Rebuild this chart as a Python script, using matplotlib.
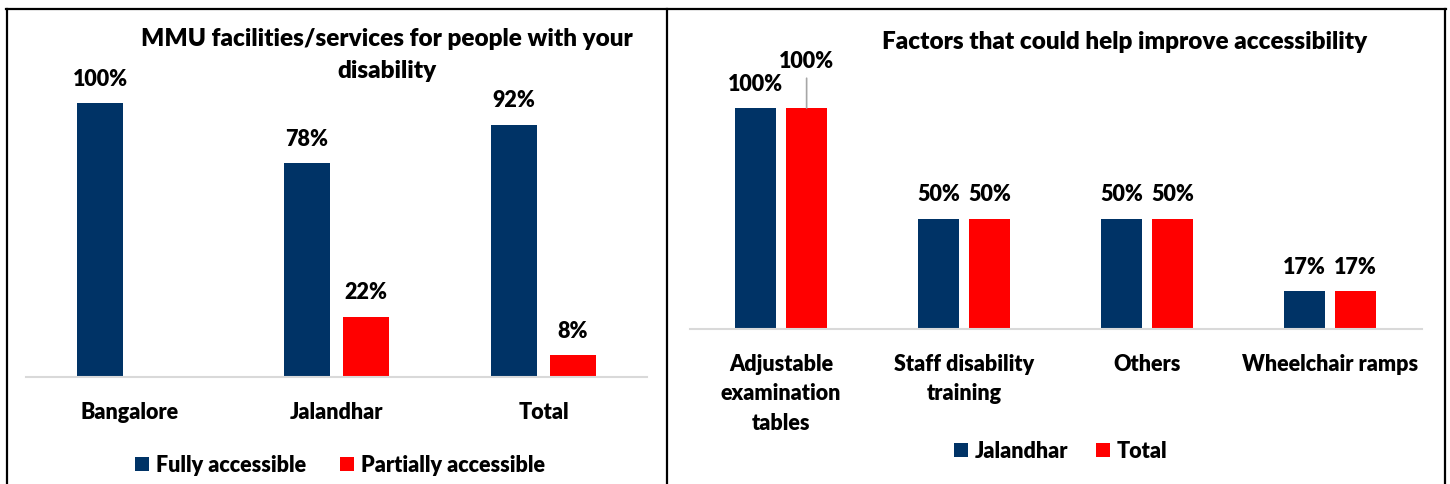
import matplotlib.pyplot as plt
import numpy as np
from matplotlib.lines import Line2D

plt.rcParams['font.family'] = ['Lato', 'DejaVu Sans']
plt.rcParams['font.weight'] = 'heavy'

NAVY = '#003366'
RED = '#FF0000'
FS = 15.5
TFS = 17.5

# left chart data
cities = ['Bangalore', 'Jalandhar', 'Total']
fully = [100, 78, 92]
partially = [None, 22, 8]

# right chart data
factors = ['Adjustable\nexamination\ntables', 'Staff disability\ntraining', 'Others', 'Wheelchair ramps']
jalandhar = [100, 50, 50, 17]
total = [100, 50, 50, 17]

W, H = 1450, 485
fig = plt.figure(figsize=(W / 100, H / 100), dpi=100)


def px(x0, y_top, x1, y_bot):
    return [x0 / W, 1 - y_bot / H, (x1 - x0) / W, (y_bot - y_top) / H]


def style(ax):
    for s in ['top', 'right', 'left']:
        ax.spines[s].set_visible(False)
    ax.spines['bottom'].set_color('#D9D9D9')
    ax.spines['bottom'].set_linewidth(1.5)
    ax.set_yticks([])
    ax.set_ylim(0, 100)
    ax.tick_params(axis='x', length=0, labelsize=FS)


def label(ax, x, v, dy=18):
    ax.annotate(f'{v}%', (x, v), xytext=(0, dy), textcoords='offset points',
                ha='center', va='center', fontsize=FS,
                annotation_clip=False)


# ---- left panel
ax1 = fig.add_axes(px(26, 104, 647, 378))
style(ax1)
x = np.arange(len(cities))
w, off = 0.222, 0.1425
ax1.bar(x - off, fully, w, color=NAVY, label='Fully accessible')
pv = [v if v is not None else 0 for v in partially]
ax1.bar(x + off, pv, w, color=RED, label='Partially accessible')
for i in range(len(cities)):
    label(ax1, x[i] - off, fully[i])
    if partially[i] is not None:
        label(ax1, x[i] + off, partially[i])
ax1.set_xlim(-0.5, 2.5)
ax1.set_xticks(x)
ax1.set_xticklabels(cities)
ax1.tick_params(axis='x', pad=17.5)
fig.text(387 / W, 1 - 55 / H, 'MMU facilities/services for people with your\ndisability',
         ha='center', va='center', fontsize=TFS, linespacing=1.55)
ax1.legend(loc='center', bbox_to_anchor=(340 / W, 1 - 466 / H), bbox_transform=fig.transFigure,
           ncol=2, frameon=False, fontsize=FS, handlelength=0.65, handleheight=0.65,
           handletextpad=0.3, columnspacing=1.6)

# ---- right panel
ax2 = fig.add_axes(px(689.5, 109, 1421.5, 330))
style(ax2)
x2 = np.arange(len(factors))
w2, off2 = 0.224, 0.14
ax2.bar(x2 - off2, jalandhar, w2, color=NAVY, label='Jalandhar')
ax2.bar(x2 + off2, total, w2, color=RED, label='Total')
for i in range(len(factors)):
    label(ax2, x2[i] - off2, jalandhar[i])
    if i == 0:
        ax2.annotate(f'{total[i]}%', (x2[i] + off2, total[i]), xytext=(0, 34),
                     textcoords='offset points', ha='center', va='center',
                     fontsize=FS, annotation_clip=False,
                     arrowprops=dict(arrowstyle='-', color='#A6A6A6', lw=1.2,
                                     shrinkA=3, shrinkB=0))
    else:
        label(ax2, x2[i] + off2, total[i])
ax2.set_xlim(-0.5, 3.5)
ax2.set_xticks(x2)
ax2.set_xticklabels(factors, linespacing=1.5)
ax2.tick_params(axis='x', pad=17)
fig.text(1125 / W, 1 - 42 / H, 'Factors that could help improve accessibility',
         ha='center', va='center', fontsize=TFS)
ax2.legend(loc='center', bbox_to_anchor=(1061 / W, 1 - 452 / H), bbox_transform=fig.transFigure,
           ncol=2, frameon=False, fontsize=FS, handlelength=0.65, handleheight=0.65,
           handletextpad=0.3, columnspacing=1.3)

# panel borders
for xs, ys in [([6, 1446], [10, 10]), ([7, 7], [10, H]), ([666.5, 666.5], [10, H]),
               ([1445, 1445], [10, H])]:
    fig.add_artist(Line2D([v / W for v in xs], [1 - v / H for v in ys],
                          color='black', lw=1.6, transform=fig.transFigure))

fig.savefig('out.png', dpi=100)
